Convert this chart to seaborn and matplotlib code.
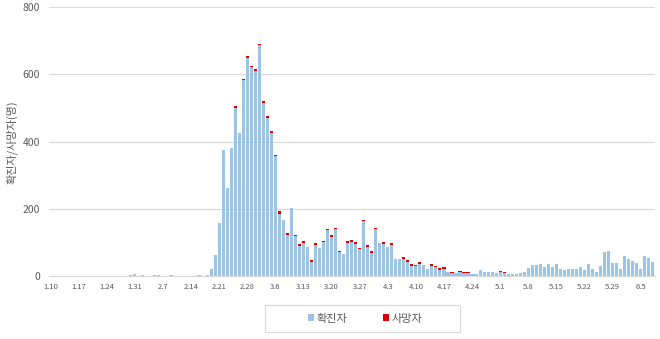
import numpy as np
import pandas as pd
import matplotlib
matplotlib.use("Agg")
import matplotlib.pyplot as plt
import seaborn as sns
from matplotlib.patches import Patch, Rectangle

# categories: daily dates 1.10 ... 6.8 (2020)
dates = [f"{d.month}.{d.day}" for d in pd.date_range("2020-01-10", "2020-06-08")]
tick_every = 7

confirmed = [
    0, 0, 0, 0, 0, 0, 0, 0, 0, 0,
    1, 0, 0, 0, 1, 0, 1, 1, 0, 0,
    2, 7, 1, 3, 0, 1, 2, 4, 0, 0,
    3, 1, 0, 0, 0, 0, 0, 2, 0, 2,
    20, 62, 158, 376, 262, 382, 500, 426, 583, 649,
    621, 610, 687, 514, 470, 425, 358, 185, 168, 123,
    202, 119, 88, 99, 85, 41, 92, 82, 100, 137,
    117, 139, 70, 64, 98, 101, 95, 81, 163, 87,
    67, 139, 97, 96, 85, 93, 50, 50, 52, 42,
    31, 29, 37, 33, 21, 31, 27, 19, 22, 11,
    10, 9, 11, 8, 9, 7, 7, 18, 13, 11,
    11, 9, 11, 9, 5, 5, 7, 8, 13, 24,
    32, 32, 35, 27, 35, 27, 36, 20, 17, 20,
    20, 21, 27, 17, 35, 20, 13, 30, 72, 74,
    40, 40, 22, 58, 51, 44, 38, 20, 58, 53,
    42,
]

deaths = [
    0, 0, 0, 0, 0, 0, 0, 0, 0, 0,
    0, 0, 0, 0, 0, 0, 0, 0, 0, 0,
    0, 0, 0, 0, 0, 0, 0, 0, 0, 0,
    0, 0, 0, 0, 0, 0, 0, 0, 0, 0,
    0, 0, 0, 0, 0, 0, 5, 0, 3, 4,
    4, 5, 3, 5, 6, 6, 3, 8, 0, 6,
    0, 3, 6, 5, 0, 6, 5, 0, 4, 4,
    5, 4, 5, 0, 5, 7, 5, 3, 5, 5,
    6, 4, 0, 5, 0, 4, 0, 0, 5, 5,
    4, 4, 5, 0, 0, 4, 4, 4, 4, 0,
    3, 0, 3, 3, 3, 0, 0, 0, 0, 0,
    0, 0, 3, 3, 0, 0, 0, 0, 0, 0,
    0, 0, 0, 0, 0, 0, 0, 0, 0, 0,
    0, 0, 0, 0, 0, 0, 0, 0, 0, 0,
    0, 0, 0, 0, 0, 0, 0, 0, 0, 0,
    0,
]

series_names = ["확진자", "사망자"]
colors = ["#9DC3E6", "#E00000"]

df = pd.DataFrame({"date": dates, "confirmed": confirmed, "deaths": deaths})
df["stack_top"] = df["confirmed"] + df["deaths"]

sns.set_theme(style="white")
plt.rcParams["font.family"] = ["Noto Sans CJK KR", "DejaVu Sans"]

W, H = 660, 339
fig = plt.figure(figsize=(W / 100, H / 100), dpi=100)
left, right, bottom, top = 48.5, 654.7, 276, 7
ax = fig.add_axes([left / W, 1 - bottom / H, (right - left) / W, (bottom - top) / H])

sns.barplot(data=df, x="date", y="stack_top", order=dates, color=colors[1],
            saturation=1, width=0.78, errorbar=None, linewidth=0, ax=ax)
sns.barplot(data=df, x="date", y="confirmed", order=dates, color=colors[0],
            saturation=1, width=0.78, errorbar=None, linewidth=0, ax=ax)

ax.set_xlim(-0.5, len(dates) - 0.5)
ax.set_ylim(0, 800)
ax.set_yticks(range(0, 801, 200))
ax.yaxis.grid(True, color="#D9D9D9", linewidth=0.8)
ax.set_axisbelow(True)
ticks = list(range(0, len(dates), tick_every))
ax.set_xticks(ticks)
ax.set_xticklabels([dates[i] for i in ticks], fontsize=5.5, color="#595959")
ax.tick_params(axis="y", labelsize=7.5, labelcolor="#595959", length=0, pad=6)
ax.tick_params(axis="x", length=0, pad=5)
ax.set_xlabel("")
ax.set_ylabel("")
for s in ["top", "left", "right"]:
    ax.spines[s].set_visible(False)
ax.spines["bottom"].set_color("#D9D9D9")
ax.spines["bottom"].set_linewidth(0.8)

fig.text(12 / W, 1 - 142 / H, "확진자/사망자(명)", rotation=90, fontsize=8,
         color="#595959", ha="center", va="center")

# legend box
fig.patches.append(Rectangle((265 / W, 1 - 332 / H), 195 / W, 27 / H,
                             transform=fig.transFigure, facecolor="white",
                             edgecolor="#D9D9D9", linewidth=0.8, zorder=1))
handles = [Patch(facecolor=c, edgecolor="none") for c in colors]
leg = fig.legend(handles, series_names, loc="center", ncol=2,
                 bbox_to_anchor=(365 / W, 1 - 318.5 / H), frameon=False,
                 fontsize=8, handlelength=0.55, handleheight=0.55,
                 handletextpad=0.25, columnspacing=3.2,
                 labelcolor="#595959")
leg.set_zorder(2)

fig.savefig("out.png", dpi=100)
